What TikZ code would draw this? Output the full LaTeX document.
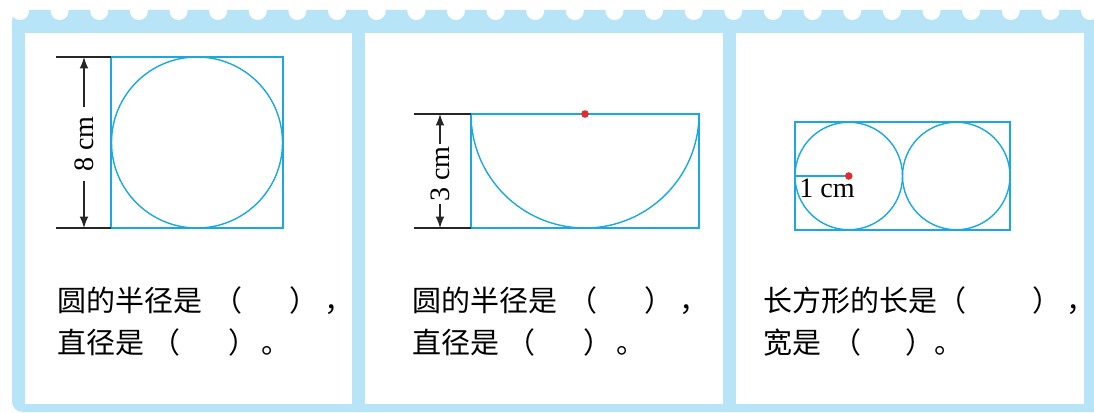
\documentclass[tikz,border=0pt]{standalone}
\usepackage{fontspec}
\setmainfont{Liberation Serif}
\newfontfamily\cjk{Noto Sans CJK SC}
\usetikzlibrary{positioning,arrows.meta}
\tikzset{>={Latex[length=6.5pt,width=5pt]}}
\definecolor{frameblue}{HTML}{B8E4F8}
\definecolor{lineblue}{HTML}{1BA8E0}
\definecolor{dotred}{HTML}{E42A2A}

\begin{document}
\begin{tikzpicture}[x=0.02cm,y=-0.02cm,
        fig/.style={draw=lineblue,line width=0.8pt},
        dim/.style={draw=black!85,line width=0.75pt},
        dimtext/.style={font=\fontsize{16}{18}\selectfont,inner sep=0pt},
        ask/.style={anchor=base west,font=\cjk\fontsize{16.5}{20}\selectfont,inner sep=0pt}]
        \useasboundingbox (0,0) rectangle (1094,412);

        \fill[frameblue,rounded corners=6] (12,10) rectangle (1110,412);
        \foreach \i in {0,...,27}
            \fill[white] (20+39.63*\i,11) circle (9);
        \foreach \l/\r in {25/352,365/723,736/1084}
            \fill[white] (\l,33) rectangle (\r,404);

        \coordinate (a) at (111,57);
        \coordinate (b) at (111,228);
        \coordinate (a') at (56,57);
        \coordinate (b') at (56,228);
        \coordinate (at) at (84,57);
        \coordinate (bt) at (84,228);
        \draw[fig] (a) rectangle (283,228);
        \draw[fig] (197,142.5) circle (85.5);
        \draw[dim] (a') -- (a);
        \draw[dim] (b') -- (b);
        \node[dimtext,rotate=90,inner xsep=0.18cm] (d8) at (84,144) {8 cm};
        \draw[dim,->] (d8.east) -- (at);
        \draw[dim,->] (d8.west) -- (bt);

        \coordinate (c) at (471,114);
        \coordinate (d) at (471,228);
        \coordinate (c') at (414,114);
        \coordinate (d') at (414,228);
        \coordinate (ct) at (440,114);
        \coordinate (dt) at (440,228);
        \coordinate (o) at (585,114);
        \draw[fig] (c) rectangle (699,228);
        \draw[fig] (c) arc (180:0:114);
        \fill[dotred] (o) circle (3.8);
        \draw[dim] (c') -- (c);
        \draw[dim] (d') -- (d);
        \node[dimtext,rotate=90,inner xsep=0.04cm] (d3) at (440,174) {3 cm};
        \draw[dim,->] (d3.east) -- (ct);
        \draw[dim,->] (d3.west) -- (dt);

        \coordinate (e) at (795,176);
        \coordinate (p) at (848.75,176);
        \coordinate (q) at (956.25,176);
        \draw[fig] (795,122) rectangle (1010,230);
        \draw[fig] (p) circle (53.75);
        \draw[fig] (q) circle (53.75);
        \draw[fig] (e) -- (p);
        \fill[dotred] (p) circle (3.8);
        \node[dimtext,anchor=base] (r1) at (827,197) {1 cm};

        \node[ask] (q1a) at (57,311) {圆的半径是\hspace{0.4em}（\hspace{1.6em}）\hspace{0.2em}，};
        \node[ask] (q1b) at (57,353.5) {直径是\hspace{0.25em}（\hspace{1.65em}）\hspace{0.15em}。};
        \node[ask] (q2a) at (412,311) {圆的半径是\hspace{0.4em}（\hspace{1.6em}）\hspace{0.2em}，};
        \node[ask] (q2b) at (412,353.5) {直径是\hspace{0.25em}（\hspace{1.65em}）\hspace{0.15em}。};
        \node[ask] (q3a) at (763,311) {长方形的长是（\hspace{2.3em}）\hspace{0.15em}，};
        \node[ask] (q3b) at (763,353.5) {宽是\hspace{0.4em}（\hspace{1.5em}）。};
    \end{tikzpicture}
\end{document}
